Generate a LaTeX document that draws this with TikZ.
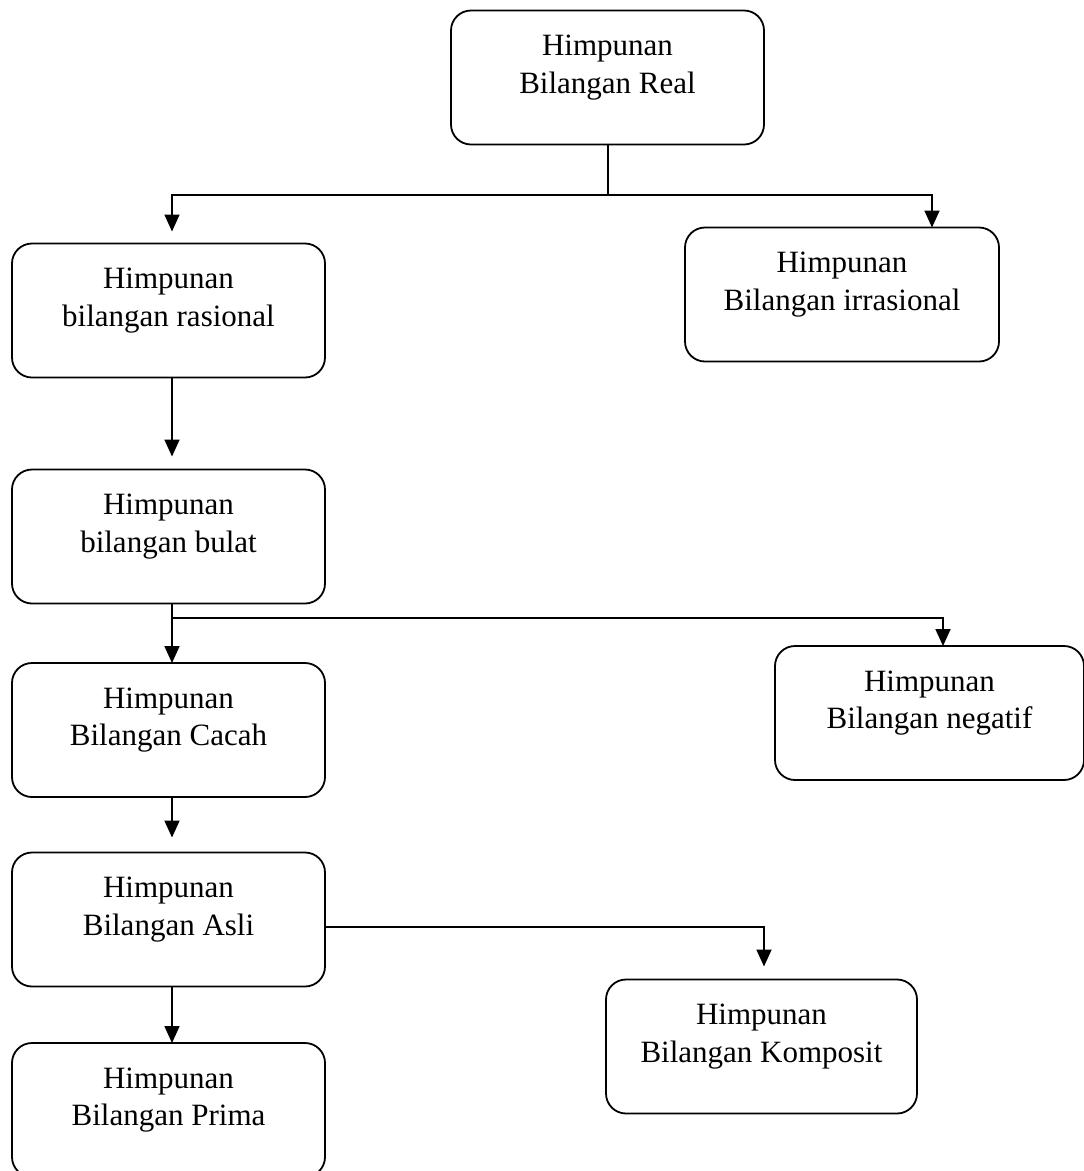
\documentclass[tikz,border=0pt]{standalone}
\usepackage{fontspec}
\setmainfont{Liberation Serif}
\usetikzlibrary{arrows.meta}
\begin{document}
\begin{tikzpicture}[x=1pt,y=-1pt,
  setbox/.style={draw, line width=1.8pt, rounded corners=20pt, minimum width=313pt,
    minimum height=134pt, inner sep=0pt, outer sep=0pt},
  caption/.style={font=\fontsize{31}{37.5}\selectfont, align=center, inner sep=0pt, yshift=10pt},
  link/.style={line width=1.8pt},
  arr/.style={link, -{Triangle[width=15pt,length=17pt]}}]
\fill[white] (0,0) rectangle (1084,1171);
\useasboundingbox (0,0) rectangle (1084,1171);

% sets of numbers
\node[setbox, label={[caption]center:{Himpunan\\Bilangan Real}}] (real) at (607.5,77.5) {};
\node[setbox, label={[caption]center:{Himpunan\\bilangan rasional}}] (ras) at (168.5,310.5) {};
\node[setbox, minimum width=314pt, label={[caption]center:{Himpunan\\Bilangan irrasional}}] (irr) at (842,294.5) {};
\node[setbox, label={[caption]center:{Himpunan\\bilangan bulat}}] (bulat) at (168.5,536.5) {};
\node[setbox, label={[caption]center:{Himpunan\\Bilangan Cacah}}] (cacah) at (168.5,730) {};
\node[setbox, minimum width=309pt, label={[caption]center:{Himpunan\\Bilangan negatif}}] (neg) at (929.5,713) {};
\node[setbox, label={[caption]center:{Himpunan\\Bilangan Asli}}] (asli) at (168.5,919.5) {};
\node[setbox, minimum width=311pt, label={[caption]center:{Himpunan\\Bilangan Komposit}}] (komp) at (761.5,1046.5) {};
\node[setbox, label={[caption]center:{Himpunan\\Bilangan Prima}}] (prima) at (168.5,1110) {};

% connectors
\coordinate (s1) at (608,195);
\draw[link] (real.south -| s1) -- (s1);
\draw[arr, shorten >=12pt] (s1) -| ([xshift=3.5pt]ras.north);
\draw[arr] (s1) -| ([xshift=90pt]irr.north);
\draw[arr, shorten >=13pt] ([xshift=3.5pt]ras.south) -- ([xshift=3.5pt]bulat.north);
\coordinate (s2) at (172,618);
\draw[arr] ([xshift=3.5pt]bulat.south) -- ([xshift=3.5pt]cacah.north);
\draw[arr] (s2) -| ([xshift=13.5pt]neg.north);
\draw[arr, shorten >=15pt] ([xshift=3.5pt]cacah.south) -- ([xshift=3.5pt]asli.north);
\draw[arr, shorten >=13pt] ([yshift=-7.5pt]asli.east) -| ([xshift=2.5pt]komp.north);
\draw[arr] ([xshift=3.5pt]asli.south) -- ([xshift=3.5pt]prima.north);
\end{tikzpicture}
\end{document}
